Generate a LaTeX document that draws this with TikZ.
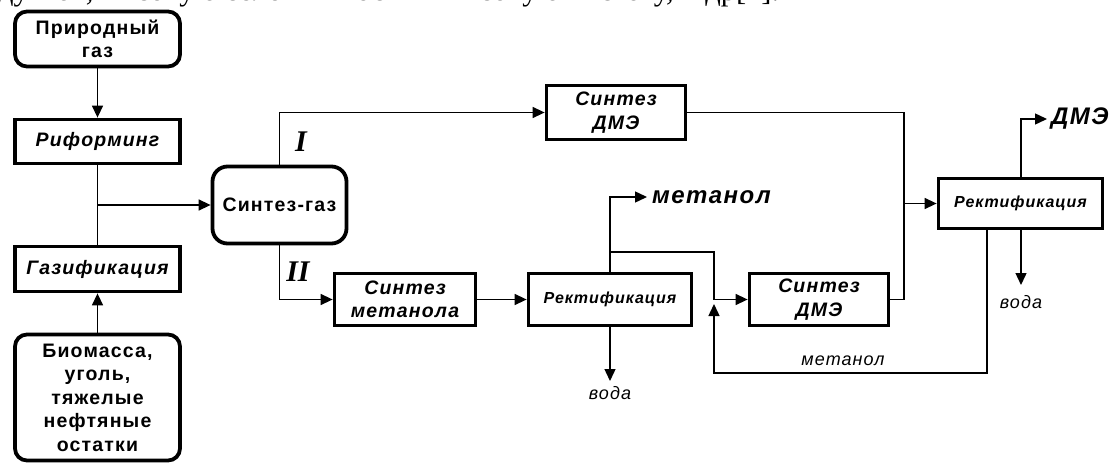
\documentclass[tikz,border=0pt]{standalone}
\usepackage{fontspec}
\setmainfont{Liberation Sans}
\newfontfamily\lsans[LetterSpace=6]{Liberation Sans}
\newfontfamily\lserif{Liberation Serif}
\usetikzlibrary{arrows.meta}
\begin{document}
\begin{tikzpicture}[x=1pt,y=-1pt,
  box/.style={draw, line width=3.8pt, inner sep=0pt, align=center,
    font=\lsans\bfseries\fontsize{19.5}{23.5}\selectfont},
  rbox/.style={box, rounded corners=12pt},
  proc/.style={box, font=\lsans\bfseries\itshape\fontsize{19.5}{23.5}\selectfont},
  rect/.style={box, font=\lsans\bfseries\itshape\fontsize{16}{20}\selectfont},
  conn/.style={line width=1.4pt},
  arr/.style={conn, -{Triangle[length=12pt,width=11pt]}},
  lbl/.style={font=\lsans\itshape\fontsize{18}{20}\selectfont, inner sep=0pt},
  blbl/.style={font=\lsans\bfseries\itshape\fontsize{24}{26}\selectfont, inner sep=0pt},
  roman/.style={font=\lserif\bfseries\itshape\fontsize{30}{32}\selectfont, inner sep=0pt}]
\useasboundingbox (0,0) rectangle (1113,465);
\node[anchor=base west, inner sep=0pt, font=\lserif\fontsize{30.5}{32}\selectfont] (top) at (-2,1) {дуктов, высокую селективность и высокую чистоту, и др[1].};
% boxes
\node[rbox, minimum width=165, minimum height=55] (gas) at (97.5,39) {Природный\\газ};
\node[proc, minimum width=165, minimum height=44] (reform) at (97.5,141.5) {Риформинг};
\node[proc, minimum width=165, minimum height=45] (gasif) at (97.5,269) {Газификация};
\node[rbox, minimum width=165, minimum height=126] (bio) at (97.5,397.5) {Биомасса,\\уголь,\\тяжелые\\нефтяные\\остатки};
\node[rbox, rounded corners=15pt, minimum width=134, minimum height=77] (syn) at (279.5,205) {Синтез-газ};
\node[proc, minimum width=139, minimum height=54] (dme1) at (616,112.5) {Синтез\\ДМЭ};
\node[proc, minimum width=141, minimum height=52] (meth) at (405,299.5) {Синтез\\метанола};
\node[rect, minimum width=163, minimum height=52] (rect1) at (610,299.5) {Ректификация};
\node[proc, minimum width=139, minimum height=52] (dme2) at (819,299.5) {Синтез\\ДМЭ};
\node[rect, minimum width=164, minimum height=50] (rect2) at (1020.5,203.5) {Ректификация};
% coordinates
\coordinate (j1) at (97.5,205);
\coordinate (m1) at (647,197);
\coordinate (b1) at (610,252);
\coordinate (c1) at (714,299.5);
\coordinate (r1) at (987,373);
\coordinate (u1) at (714,304);
\coordinate (v1) at (904,299.5);
\coordinate (v2) at (904,112.5);
\coordinate (v3) at (904,203.5);
\coordinate (d1) at (1047,119);
\coordinate (w1) at (610,381);
\coordinate (w2) at (1021,285);
% labels
\node[blbl, anchor=west] (metout) at (652,197) {метанол};
\node[blbl, anchor=west] (dmeout) at (1051,119) {ДМЭ};
\node[lbl] (voda1) at (610,393) {вода};
\node[lbl] (voda2) at (1021,302) {вода};
\node[lbl] (metrec) at (843,361) {метанол};
\node[roman] (one) at (301,142) {I};
\node[roman] (two) at (298,272) {II};
% connectors
\draw[arr] (gas) -- (reform);
\draw[conn] (reform) -- (gasif);
\draw[arr] (bio) -- (gasif);
\draw[arr] (j1) -- (syn.west);
\draw[arr] (syn.north) |- (dme1.west);
\draw[arr] (syn.south) |- (meth.west);
\draw[arr] (meth) -- (rect1);
\draw[arr] (rect1.north) |- (m1);
\draw[conn] (b1) -| (c1);
\draw[arr] (c1) -- (dme2.west);
\draw[arr] (rect1.south) -- (w1);
\draw[arr] (rect2.south -| r1) -- (r1) -| (u1);
\draw[conn] (dme2.east) -- (v1) -- (v2) -- (dme1.east);
\draw[arr] (v3) -- (rect2.west);
\draw[arr] (rect2.north -| d1) ++(-26,0) |- (d1);
\draw[arr] (rect2.south -| w2) -- (w2);
\end{tikzpicture}
\end{document}
